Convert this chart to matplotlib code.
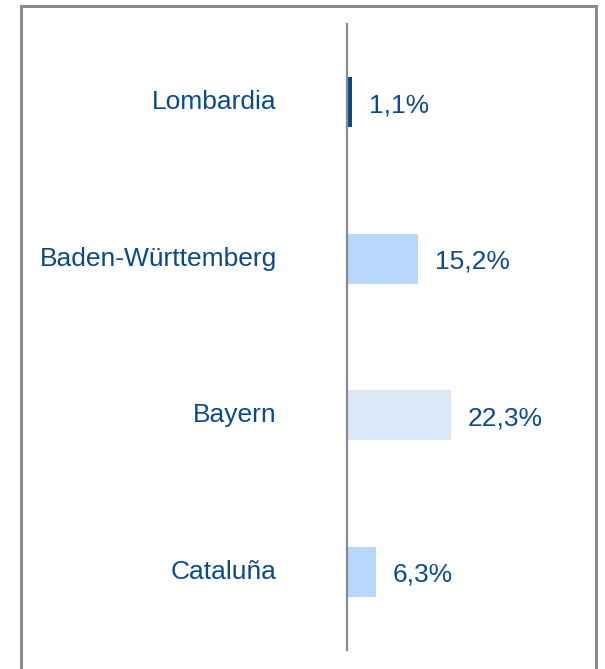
import matplotlib.pyplot as plt
from matplotlib.patches import Rectangle

regions = ["Lombardia", "Baden-Württemberg", "Bayern", "Cataluña"]
shares = [1.1, 15.2, 22.3, 6.3]
value_labels = ["1,1%", "15,2%", "22,3%", "6,3%"]
bar_colors = ["#0b4a8f", "#b8d8fb", "#dbe8f8", "#b8d8fb"]

text_color = "#0b4a8f"
plt.rcParams['font.family'] = ['Liberation Sans', 'DejaVu Sans']

W, H = 605, 669
fig = plt.figure(figsize=(W / 100, H / 100), dpi=100)

# axes spanning from the vertical baseline to the right frame edge
x0, x1 = 347, 596
y_top, y_bot = 24, 650
ax = fig.add_axes([x0 / W, 1 - y_bot / H, (x1 - x0) / W, (y_bot - y_top) / H])
ax.set_xlim(0, (x1 - x0) / 4.67)
ax.set_ylim(len(regions) - 0.5, -0.5)

ypos = list(range(len(regions)))
ax.barh(ypos, shares, height=0.32, color=bar_colors, zorder=2)

for y, v, lab in zip(ypos, shares, value_labels):
    ax.annotate(lab, (v, y), xytext=(12, -2), textcoords="offset points",
                ha="left", va="center", fontsize=19, color=text_color)

for y, name in zip(ypos, regions):
    ax.annotate(name, (0, y), xytext=(-50.5, 0), textcoords="offset points",
                ha="right", va="center", fontsize=19, color=text_color,
                annotation_clip=False)

for side in ["top", "right", "bottom"]:
    ax.spines[side].set_visible(False)
ax.spines["left"].set_color("#8a8a8a")
ax.spines["left"].set_linewidth(1.6)
ax.set_xticks([])
ax.set_yticks([])
ax.patch.set_alpha(0)

# outer frame, open at the bottom edge of the image
frame = Rectangle((21 / W, -0.1), (596 - 21) / W, 1.1 - 6 / H,
                  transform=fig.transFigure, fill=False,
                  edgecolor="#8c8c8c", linewidth=2.2, clip_on=False)
fig.patches.append(frame)

fig.savefig("out.png", dpi=100)
